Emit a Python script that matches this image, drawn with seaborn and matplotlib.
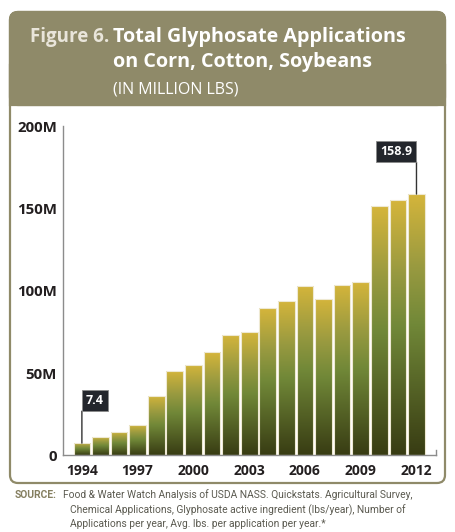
import numpy as np
import pandas as pd
import seaborn as sns
import matplotlib.pyplot as plt
from matplotlib.patches import FancyBboxPatch, Rectangle
from matplotlib.colors import LinearSegmentedColormap

# data (million lbs of glyphosate, corn + cotton + soybeans)
years = list(range(1994, 2013))
glyphosate = [7.4, 11.2, 14.2, 18.4, 36.1, 51.3, 54.9, 62.6, 73.4, 75.0,
              89.4, 93.7, 103.0, 94.9, 103.6, 105.4, 151.4, 155.1, 158.9]
tick_years = [1994, 1997, 2000, 2003, 2006, 2009, 2012]
y_ticks = [0, 50, 100, 150, 200]
y_tick_labels = ["0", "50M", "100M", "150M", "200M"]
callout_years = [1994, 2012]
callout_labels = ["7.4", "158.9"]

W, H = 456, 532
OLIVE = "#8f8a69"
DARK = "#231f20"

sns.set_theme(style="white")
plt.rcParams["font.family"] = ["Open Sans", "DejaVu Sans"]

fig = plt.figure(figsize=(W / 100, H / 100), dpi=100)


def px_box(x0, y0, x1, y1):
    # pixel box (top-left origin) -> inches for dpi_scale_trans
    return x0 / 100, (H - y1) / 100, (x1 - x0) / 100, (y1 - y0) / 100


# panel + header band
x, y, w, h = px_box(10, 12, 445, 483)
fig.add_artist(FancyBboxPatch((x, y), w, h, boxstyle="round,pad=0,rounding_size=0.08",
                              transform=fig.dpi_scale_trans, fc="white", ec=OLIVE, lw=1.6,
                              zorder=-2))
x, y, w, h = px_box(10, 12, 445, 105)
fig.add_artist(FancyBboxPatch((x, y), w, h, boxstyle="round,pad=0,rounding_size=0.08",
                              transform=fig.dpi_scale_trans, fc=OLIVE, ec=OLIVE, lw=1.6,
                              zorder=-1))
fig.add_artist(Rectangle((x, y), w, 0.4, transform=fig.dpi_scale_trans,
                         fc=OLIVE, ec=OLIVE, lw=1.6, zorder=-1))


def ftext(xp, yp, s, **kw):
    return fig.text(xp / W, 1 - yp / H, s, **kw)


ftext(109, 37, "Figure 6.", color="#e9e5da", fontsize=13.5, fontweight="bold",
      va="center", ha="right")
ftext(113, 37, "Total Glyphosate Applications", color="white", fontsize=14.2,
      fontweight="bold", va="center")
ftext(113, 62, "on Corn, Cotton, Soybeans", color="white", fontsize=14.2,
      fontweight="bold", va="center")
ftext(113, 89, "(IN MILLION LBS)", color="white", fontsize=11.5, va="center")

# chart
df = pd.DataFrame({"year": [str(v) for v in years], "lbs": glyphosate})
ax = fig.add_axes([63.3 / W, (H - 455.3) / H, (436 - 63.3) / W, (455.3 - 126.5) / H],
                  zorder=3)
ax.set_facecolor("none")
sns.barplot(data=df, x="year", y="lbs", width=0.9, color="white", ax=ax,
            edgecolor="#eee9d2", linewidth=0.8, zorder=2)

cmap = LinearSegmentedColormap.from_list(
    "glyph", [(0.0, "#383c13"), (0.5, "#718838"), (0.72, "#999a40"), (1.0, "#d5b53b")])
grad = np.linspace(0, 1, 256).reshape(-1, 1)
for bar in ax.patches:
    bx, bw, bh = bar.get_x(), bar.get_width(), bar.get_height()
    im = ax.imshow(grad, cmap=cmap, origin="lower", aspect="auto",
                   extent=[bx, bx + bw, 0, bh], zorder=1)
    im.set_clip_path(bar)
    bar.set_facecolor("none")

ax.set_xlim(-1.0, len(years) - 1 + 1.05)
ax.set_ylim(0, 200)
ax.set_yticks(y_ticks)
ax.set_yticklabels(y_tick_labels)
ax.set_xticks([years.index(t) for t in tick_years])
ax.set_xticklabels([str(t) for t in tick_years])
ax.set_xlabel("")
ax.set_ylabel("")

ax.spines["top"].set_visible(False)
for s in ["left", "bottom", "right"]:
    ax.spines[s].set_color("#8c8c8c")
    ax.spines[s].set_linewidth(1.0)
ax.spines["right"].set_bounds(0, 3.5)

ax.tick_params(axis="y", direction="in", length=7.5, width=1, color="#8c8c8c",
               pad=4.5, labelsize=10.8, labelcolor=DARK)
ax.tick_params(axis="x", direction="out", length=3.6, width=1, color="#333333",
               pad=3, labelsize=10, labelcolor=DARK)
for lab in ax.get_xticklabels() + ax.get_yticklabels():
    lab.set_fontweight("bold")

# callouts: vertical rule from the bar top, box corner sitting on the rule's end
RISE = 23  # points between bar top and box
renderer = fig.canvas.get_renderer()
notes = []
for yr, lab in zip(callout_years, callout_labels):
    i = years.index(yr)
    val = glyphosate[i]
    right = i == len(years) - 1
    ax.annotate("", xy=(i, val), xytext=(0, RISE), textcoords="offset points",
                arrowprops=dict(arrowstyle="-", color="#333333", lw=1,
                                shrinkA=0, shrinkB=0), zorder=4)
    box = ax.annotate(lab, xy=(i, val), xytext=(0, RISE), textcoords="offset points",
                      ha="right" if right else "left", va="bottom", color="white",
                      fontsize=9, fontweight="bold", zorder=5,
                      bbox=dict(boxstyle="square,pad=0.32", fc="#23262c", ec="#8a8a8a", lw=0.6))
    notes.append((box, i, val, right))

fig.canvas.draw()
for box, i, val, right in notes:
    ext = box.get_bbox_patch().get_window_extent(renderer)
    tx, ty = ax.transData.transform((i, val))
    dx = tx - (ext.x1 if right else ext.x0)
    dy = ty + RISE * fig.dpi / 72 - ext.y0
    box.xyann = (box.xyann[0] + dx * 72 / fig.dpi, box.xyann[1] + dy * 72 / fig.dpi)

# source note, sized so the first line spans the same width as the reference
src_font = ["Roboto", "DejaVu Sans"]
src_lines = [
    (63, 495, "Food & Water Watch Analysis of USDA NASS. Quickstats. Agricultural Survey,"),
    (70, 510, "Chemical Applications, Glyphosate active ingredient (lbs/year), Number of"),
    (70, 524, "Applications per year, Avg. lbs. per application per year.*"),
]
probe = ftext(0, 0, src_lines[0][2], fontsize=8, family=src_font)
src_size = 8 * 352 / probe.get_window_extent(renderer).width
probe.remove()

ftext(15, 495, "SOURCE:", color="#857f60", fontsize=src_size, fontweight="bold",
      family=src_font, va="center")
for xp, yp, s in src_lines:
    ftext(xp, yp, s, color="#5b5a50", fontsize=src_size, family=src_font, va="center")

fig.savefig("out.png", dpi=100)
